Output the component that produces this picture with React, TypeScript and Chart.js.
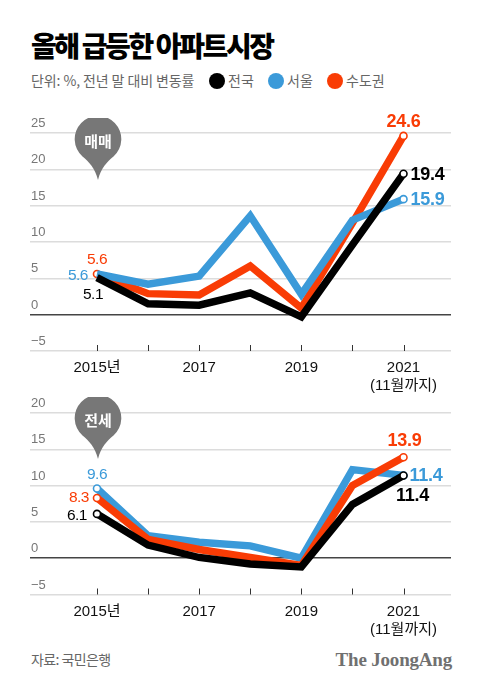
import React, { useEffect, useRef } from "react";
import { Chart, registerables } from "chart.js";

Chart.register(...registerables);

const years = [2015, 2016, 2017, 2018, 2019, 2020, 2021];
const labelledYears: Record<number, string | string[]> = {
  2015: "2015년",
  2017: "2017",
  2019: "2019",
  2021: ["2021", "(11월까지)"],
};

const saleNation = [5.1, 1.5, 1.3, 3.0, -0.3, 9.6, 19.4];
const saleSeoul = [5.6, 4.2, 5.3, 13.6, 2.8, 13.0, 15.9];
const saleMetro = [5.6, 2.9, 2.7, 6.7, 0.9, 12.6, 24.6];

const rentNation = [6.1, 1.8, 0.1, -0.8, -1.2, 7.4, 11.4];
const rentMetro = [8.3, 2.6, 1.2, 0.1, -1.0, 10.0, 13.9];
const rentSeoul = [9.6, 3.1, 2.2, 1.7, 0.0, 12.2, 11.4];

const saleTicks = [-5, 0, 5, 10, 15, 20, 25];
const rentTicks = [-5, 0, 5, 10, 15, 20];

const BLACK = "#000000";
const BLUE = "#3b9ad9";
const RED = "#f93c05";
const FONT = '"Liberation Sans", "Noto Sans CJK KR", sans-serif';
const KFONT = '"Noto Sans CJK KR", sans-serif';

type Note = { ds: number; i: number; text: string; dx: number; dy: number; align: CanvasTextAlign; size: number; bold: boolean };

const saleNotes: Note[] = [
  { ds: 2, i: 6, text: "24.6", dx: 0, dy: -14, align: "center", size: 18, bold: true },
  { ds: 0, i: 6, text: "19.4", dx: 7, dy: 1, align: "left", size: 18, bold: true },
  { ds: 1, i: 6, text: "15.9", dx: 7, dy: 1, align: "left", size: 18, bold: true },
  { ds: 2, i: 0, text: "5.6", dx: 0, dy: -14, align: "center", size: 15.5, bold: false },
  { ds: 1, i: 0, text: "5.6", dx: -9, dy: 2, align: "right", size: 15.5, bold: false },
  { ds: 0, i: 0, text: "5.1", dx: -4, dy: 17, align: "center", size: 15.5, bold: false },
];
const rentNotes: Note[] = [
  { ds: 1, i: 6, text: "13.9", dx: 1, dy: -16, align: "center", size: 18, bold: true },
  { ds: 2, i: 6, text: "11.4", dx: 6, dy: 1, align: "left", size: 18, bold: true },
  { ds: 0, i: 6, text: "11.4", dx: 9, dy: 21, align: "center", size: 18, bold: true },
  { ds: 2, i: 0, text: "9.6", dx: 0, dy: -14, align: "center", size: 15.5, bold: false },
  { ds: 1, i: 0, text: "8.3", dx: -8, dy: 0, align: "right", size: 15.5, bold: false },
  { ds: 0, i: 0, text: "6.1", dx: -10, dy: 2, align: "right", size: 15.5, bold: false },
];

const overlay = (notes: Note[]) => ({
  id: "overlay",
  afterDatasetsDraw(chart: any) {
    const { ctx, scales, chartArea } = chart;
    ctx.save();
    ctx.strokeStyle = "#333333";
    ctx.lineWidth = 1;
    years.forEach((yr) => {
      const x = Math.round(scales.x.getPixelForValue(yr)) + 0.5;
      ctx.beginPath();
      ctx.moveTo(x, chartArea.bottom - 6);
      ctx.lineTo(x, chartArea.bottom);
      ctx.stroke();
    });
    ctx.textBaseline = "middle";
    notes.forEach((n) => {
      const ds = chart.data.datasets[n.ds];
      const x = scales.x.getPixelForValue(years[n.i]);
      const y = scales.y.getPixelForValue(ds.data[n.i].y);
      ctx.font = `${n.bold ? "bold " : ""}${n.size}px ${FONT}`;
      ctx.letterSpacing = n.bold ? "-0.3px" : "-0.5px";
      ctx.fillStyle = ds.borderColor;
      ctx.textAlign = n.align;
      ctx.fillText(n.text, x + n.dx, y + n.dy);
    });
    ctx.restore();
  },
});

const line = (label: string, values: number[], color: string, firstDot = true) => ({
  label,
  data: values.map((y, i) => ({ x: years[i], y })),
  borderColor: color,
  backgroundColor: color,
  borderWidth: 7.4,
  borderJoinStyle: "miter" as const,
  borderCapStyle: "butt" as const,
  tension: 0,
  clip: false,
  pointRadius: values.map((_, i) => ((i === 0 && firstDot) || i === values.length - 1 ? 3.5 : 0)),
  pointBackgroundColor: "#ffffff",
  pointBorderColor: color,
  pointBorderWidth: 1.6,
});

function makeChart(
  canvas: HTMLCanvasElement,
  datasets: any[],
  ticks: number[],
  notes: Note[],
  topPad: number,
  xHeight: number
) {
  return new Chart(canvas, {
    type: "line",
    data: { datasets },
    plugins: [overlay(notes)],
    options: {
      animation: false,
      responsive: false,
      layout: { padding: { left: 30, right: 29, top: topPad, bottom: 0 } },
      plugins: { legend: { display: false }, tooltip: { enabled: false } },
      scales: {
        x: {
          type: "linear",
          min: 2015 - 67 / 51.1,
          max: 2021 + 47.5 / 51.1,
          afterFit: (s: any) => {
            s.height = xHeight;
          },
          afterBuildTicks: (s: any) => {
            s.ticks = years.map((value) => ({ value }));
          },
          grid: { display: false },
          border: { display: false },
          ticks: {
            autoSkip: false,
            maxRotation: 0,
            padding: 0,
            color: "#111111",
            font: { family: FONT, size: 15, lineHeight: 1.2 },
            callback: (v: any) => labelledYears[v as number] ?? "",
          },
        },
        y: {
          min: ticks[0],
          max: ticks[ticks.length - 1],
          afterFit: (s: any) => {
            s.width = 0;
          },
          afterBuildTicks: (s: any) => {
            s.ticks = ticks.map((value) => ({ value }));
          },
          border: { display: false },
          grid: {
            drawTicks: false,
            color: (c: any) => (c.tick?.value === 0 ? "#444444" : "#dcdcdc"),
            lineWidth: 1.5,
          },
          ticks: {
            mirror: true,
            padding: 1,
            labelOffset: -9.5,
            color: "#777777",
            font: { family: FONT, size: 13 },
            callback: (v: any) => (Number(v) < 0 ? "−" + Math.abs(Number(v)) : String(v)),
          },
        },
      },
    } as any,
  });
}

const Pin = ({ top, text }: { top: number; text: string }) => (
  <svg style={{ position: "absolute", left: 70, top, width: 56, height: 66 }} viewBox="0 0 56 66">
    <path d="M28 62 C25 50 19 44 12.5 38.5 A23.3 23.3 0 1 1 43.5 38.5 C37 44 31 50 28 62 Z" fill="#777777" />
    <text x="28" y="29" textAnchor="middle" fill="#ffffff" fontFamily={KFONT} fontWeight={700} fontSize="15">
      {text}
    </text>
  </svg>
);

const abs = (left: number, top: number, extra: React.CSSProperties = {}): React.CSSProperties => ({
  position: "absolute",
  left,
  top,
  whiteSpace: "nowrap",
  fontFamily: KFONT,
  lineHeight: "20px",
  ...extra,
});

const Dot = ({ x, color }: { x: number; color: string }) => (
  <div style={{ position: "absolute", left: x - 8, top: 73, width: 16, height: 16, borderRadius: 8, background: color }} />
);

export default function App() {
  const saleRef = useRef<HTMLCanvasElement>(null);
  const rentRef = useRef<HTMLCanvasElement>(null);

  useEffect(() => {
    const a = makeChart(
      saleRef.current!,
      [line("전국", saleNation, BLACK, false), line("서울", saleSeoul, BLUE, false), line("수도권", saleMetro, RED)],
      saleTicks,
      saleNotes,
      33,
      44
    );
    const b = makeChart(
      rentRef.current!,
      [line("전국", rentNation, BLACK), line("수도권", rentMetro, RED), line("서울", rentSeoul, BLUE)],
      rentTicks,
      rentNotes,
      18,
      45.5
    );
    return () => {
      a.destroy();
      b.destroy();
    };
  }, []);

  const gray = "#666666";
  return (
    <div style={{ position: "absolute", left: 0, top: 0, width: 480, height: 689, background: "#fff", overflow: "hidden" }}>
      <div style={abs(31, 29, { fontSize: 28, fontWeight: 900, color: "#000", letterSpacing: -2.4, lineHeight: "32px" })}>
        올해 급등한 아파트시장
      </div>
      <div style={abs(31, 70, { fontSize: 14, color: gray, letterSpacing: -0.1 })}>단위: %, 전년 말 대비 변동률</div>
      <Dot x={217} color={BLACK} />
      <div style={abs(228, 70, { fontSize: 14, color: gray })}>전국</div>
      <Dot x={276} color={BLUE} />
      <div style={abs(287, 70, { fontSize: 14, color: gray })}>서울</div>
      <Dot x={335} color={RED} />
      <div style={abs(346, 70, { fontSize: 14, color: gray })}>수도권</div>

      <canvas ref={saleRef} width={480} height={295} style={{ position: "absolute", left: 0, top: 100, width: 480, height: 295 }} />
      <canvas ref={rentRef} width={480} height={245} style={{ position: "absolute", left: 0, top: 395, width: 480, height: 245 }} />

      <Pin top={118} text="매매" />
      <Pin top={397} text="전세" />

      <div style={abs(31, 649, { fontSize: 14, color: gray, letterSpacing: -0.6 })}>자료: 국민은행</div>
      <div
        style={abs(0, 650, {
          left: "auto",
          right: 28,
          fontFamily: '"Liberation Serif", serif',
          fontWeight: 700,
          fontSize: 19,
          color: "#707070",
          letterSpacing: -0.2,
        })}
      >
        The JoongAng
      </div>
    </div>
  );
}
